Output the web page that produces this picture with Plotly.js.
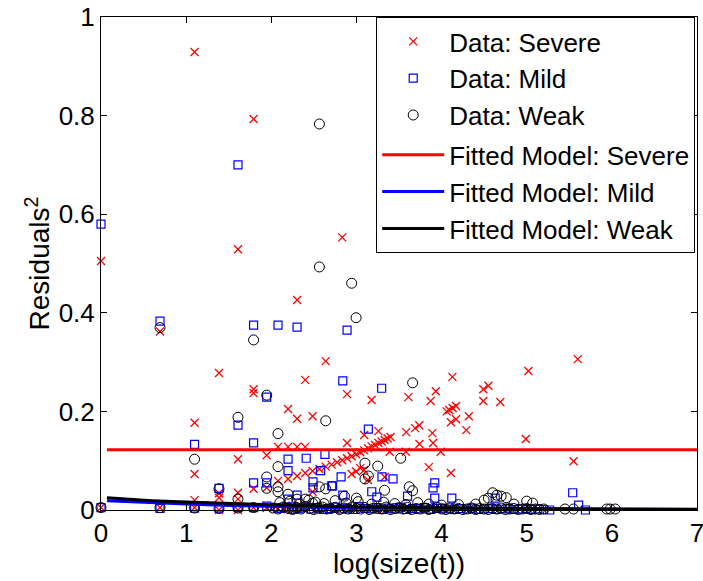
<!DOCTYPE html>
<html>
<head>
<meta charset="utf-8">
<script src="https://cdn.plot.ly/plotly-3.0.1.min.js"></script>
<style>html,body{margin:0;padding:0;background:#fff;}#chart{width:703px;height:581px;}</style>
</head>
<body>
<div id="chart"></div>
<script>
// ---- Data: Severe (red x) ----
const severeX = [0,0,0.693,0.693,1.099,1.099,1.099,1.099,1.099,1.386,1.386,1.386,1.386,1.609,1.609,1.609,1.609,1.609,1.792,1.792,1.792,1.792,1.792,1.946,1.946,1.946,2.079,2.079,2.079,2.197,2.197,2.197,2.197,2.303,2.303,2.303,2.303,2.398,2.398,2.398,2.485,2.485,2.485,2.565,2.639,2.639,2.708,2.773,2.833,2.833,2.890,2.890,2.890,2.944,2.944,2.996,2.996,3.045,3.045,3.091,3.091,3.091,3.135,3.135,3.178,3.178,3.219,3.258,3.258,3.296,3.332,3.332,3.367,3.401,3.39,3.58,3.584,3.611,3.689,3.738,3.74,3.850,3.871,3.892,3.90,3.932,3.99,4.06,4.09,4.11,4.127,4.13,4.17,4.11,4.17,4.29,4.32,4.49,4.55,4.49,4.69,4.99,5.02,5.55,5.60];
const severeY = [0.505,0.005,0.362,0.005,0.929,0.177,0.073,0.020,0.005,0.278,0.034,0.025,0.000,0.529,0.103,0.035,0.022,0.000,0.793,0.245,0.237,0.043,0.005,0.111,0.045,0.004,0.128,0.059,0.003,0.205,0.128,0.063,0.002,0.426,0.185,0.128,0.069,0.264,0.128,0.075,0.190,0.079,0.037,0.083,0.302,0.088,0.092,0.097,0.553,0.101,0.235,0.136,0.105,0.109,0.073,0.113,0.078,0.117,0.085,0.121,0.152,0.081,0.125,0.061,0.223,0.129,0.132,0.136,0.160,0.139,0.142,0.067,0.145,0.148,0.118,0.118,0.158,0.229,0.166,0.172,0.134,0.087,0.221,0.156,0.136,0.241,0.118,0.200,0.203,0.075,0.270,0.207,0.211,0.178,0.184,0.162,0.190,0.245,0.252,0.221,0.219,0.144,0.282,0.099,0.306];
const severeX0 = [2.05,2.15,2.25,2.35,2.45,2.55,2.65,2.75,2.85,2.95,3.05,3.20,3.35,3.50,3.65,3.80,3.95,4.10,4.30];
const severeY0 = [0.006,0.002,0.009,0.003,0.007,0.002,0.005,0.001,0.004,0.006,0.002,0.003,0.001,0.004,0.002,0.003,0.001,0.002,0.001];

// ---- Data: Mild (blue squares) ----
const mildX = [0,0,0.693,0.693,1.099,1.099,1.386,1.386,1.609,1.609,1.609,1.792,1.792,1.792,1.792,1.946,1.946,1.946,2.079,2.079,2.197,2.197,2.197,2.303,2.303,2.303,2.41,2.49,2.49,2.58,2.63,2.71,2.72,2.82,2.84,2.84,2.89,3.14,3.18,3.24,3.296,3.30,3.43,3.60,3.90,3.92,3.92,4.12,4.63,5.54,5.61,5.69];
const mildY = [0.580,0.005,0.383,0.003,0.133,0.004,0.044,0.004,0.700,0.172,0.005,0.375,0.136,0.055,0.005,0.229,0.055,0.008,0.375,0.004,0.103,0.080,0.022,0.371,0.030,0.004,0.105,0.057,0.045,0.080,0.113,0.049,0.049,0.067,0.262,0.030,0.365,0.164,0.037,0.026,0.247,0.067,0.063,0.028,0.045,0.055,0.024,0.024,0.024,0.035,0.010,0.000];
const mildX0 = [2.12,2.18,2.26,2.33,2.40,2.47,2.54,2.61,2.68,2.75,2.82,2.89,2.96,3.03,3.10,3.17,3.24,3.31,3.38,3.45,3.52,3.59,3.66,3.73,3.80,3.87,3.94,4.01,4.08,4.15,4.22,4.29,4.36,4.43,4.50,4.57,4.64,4.71,4.78,4.85,4.92,4.99,5.06,5.13,5.20,5.27];
const mildY0 = [0.003,0.006,0.001,0.004,0.008,0.002,0.005,0.001,0.003,0.006,0.002,0.004,0.001,0.007,0.003,0.002,0.005,0.001,0.004,0.002,0.006,0.001,0.003,0.002,0.005,0.001,0.003,0.004,0.002,0.001,0.003,0.002,0.004,0.001,0.002,0.003,0.001,0.002,0.004,0.001,0.002,0.003,0.001,0.002,0.001,0.000];

// ---- Data: Weak (black circles) ----
const weakX = [0,0.693,0.693,1.099,1.099,1.386,1.386,1.609,1.609,1.609,1.792,1.792,1.946,1.946,1.946,2.079,2.079,2.079,2.079,2.197,2.303,2.398,2.485,2.565,2.565,2.565,2.639,2.639,2.86,2.944,2.996,3.00,3.10,3.10,3.14,3.25,3.33,3.52,3.62,3.66,3.66,4.50,4.55,4.60,4.65,4.70,4.76,5.00,5.07,5.45,5.55,5.94,5.98,6.04];
const weakY = [0.005,0.370,0.005,0.103,0.004,0.043,0.003,0.188,0.022,0.004,0.345,0.005,0.233,0.067,0.044,0.155,0.088,0.047,0.037,0.032,0.022,0.022,0.014,0.783,0.493,0.047,0.181,0.043,0.028,0.460,0.390,0.024,0.095,0.063,0.069,0.089,0.040,0.105,0.047,0.258,0.039,0.020,0.024,0.035,0.030,0.028,0.025,0.018,0.014,0.002,0.002,0.002,0.002,0.002];
const weakX0 = [2.02,2.08,2.14,2.20,2.25,2.30,2.35,2.40,2.45,2.50,2.55,2.60,2.65,2.70,2.75,2.80,2.85,2.90,2.95,3.00,3.05,3.10,3.15,3.20,3.25,3.30,3.35,3.40,3.45,3.50,3.55,3.60,3.65,3.70,3.75,3.80,3.85,3.90,3.95,4.00,4.05,4.10,4.15,4.20,4.25,4.30,4.35,4.40,4.45,4.50,4.55,4.60,4.65,4.70,4.75,4.80,4.85,4.90,4.95,5.00,5.05,5.10,5.15,5.20];
const weakY0 = [0.004,0.002,0.006,0.003,0.001,0.005,0.002,0.007,0.003,0.001,0.004,0.006,0.002,0.003,0.005,0.001,0.004,0.002,0.006,0.003,0.002,0.005,0.001,0.004,0.003,0.002,0.006,0.001,0.003,0.004,0.002,0.005,0.001,0.003,0.002,0.004,0.001,0.003,0.005,0.002,0.001,0.004,0.002,0.003,0.001,0.002,0.004,0.001,0.003,0.002,0.001,0.003,0.002,0.004,0.001,0.002,0.003,0.001,0.002,0.003,0.001,0.002,0.001,0.002];
const weakX1 = [2.10,2.22,2.33,2.44,2.52,2.62,2.75,2.88,3.02,3.18,3.32,3.45,3.58,3.72,3.85,4.00,4.20,4.40,4.85];
const weakY1 = [0.015,0.018,0.012,0.020,0.016,0.013,0.019,0.014,0.017,0.012,0.016,0.013,0.011,0.015,0.012,0.010,0.011,0.012,0.012];

// ---- Fitted models ----
const fitX = [0.07,0.3,0.6,1.0,1.5,2.0,2.5,3.0,4.0,5.0,6.0,7.0];
const fitSevere = [0.122,0.122,0.122,0.122,0.122,0.122,0.122,0.122,0.122,0.122,0.122,0.122];
const fitMild = [0.019,0.017,0.015,0.012,0.009,0.007,0.005,0.004,0.003,0.002,0.0015,0.001];
const fitWeak = [0.025,0.022,0.019,0.016,0.013,0.010,0.008,0.006,0.004,0.003,0.002,0.0015];

const FONT = 'Liberation Sans, Arial, Helvetica, sans-serif';

const traces = [
  {x: severeX.concat(severeX0), y: severeY.concat(severeY0), type:'scatter', mode:'markers', name:'Data: Severe',
   cliponaxis:false, legendgroup:'data',
   marker:{symbol:'x-thin-open', size:8, color:'#ff0000', line:{color:'#ff0000', width:1.3}}},
  {x: mildX.concat(mildX0), y: mildY.concat(mildY0), type:'scatter', mode:'markers', name:'Data: Mild',
   cliponaxis:false, legendgroup:'data',
   marker:{symbol:'square-open', size:8, color:'#0000ff', line:{color:'#0000ff', width:1.2}}},
  {x: weakX.concat(weakX0, weakX1), y: weakY.concat(weakY0, weakY1), type:'scatter', mode:'markers', name:'Data: Weak',
   cliponaxis:false, legendgroup:'data',
   marker:{symbol:'circle-open', size:10, color:'#000000', line:{color:'#000000', width:1}}},
  {x: fitX, y: fitSevere, type:'scatter', mode:'lines', name:'Fitted Model: Severe', legendgroup:'fit',
   line:{color:'#ff0000', width:3}},
  {x: fitX, y: fitMild, type:'scatter', mode:'lines', name:'Fitted Model: Mild', legendgroup:'fit',
   line:{color:'#0000ff', width:3}},
  {x: fitX, y: fitWeak, type:'scatter', mode:'lines', name:'Fitted Model: Weak', legendgroup:'fit',
   line:{color:'#000000', width:3}}
];

const layout = {
  width:703, height:581,
  margin:{l:101, r:6, t:17, b:71},
  paper_bgcolor:'#fff', plot_bgcolor:'#fff',
  font:{family:FONT, color:'#000', size:26},
  showlegend:true,
  legend:{x:0.997, xanchor:'right', y:1, yanchor:'top', bgcolor:'#fff', bordercolor:'#000', borderwidth:1,
          font:{family:FONT, size:26, color:'#000'}, tracegroupgap:3, traceorder:'grouped', itemwidth:62},
  xaxis:{range:[0,7], dtick:1, tick0:0, ticks:'inside', ticklen:6, tickwidth:1, tickcolor:'#000',
         showline:true, linecolor:'#000', linewidth:1, mirror:'ticks', showgrid:false, zeroline:false,
         ticklabeloverflow:'allow',
         tickfont:{family:FONT, size:26}, title:{text:'log(size(t))', font:{family:FONT, size:28}, standoff:2}},
  yaxis:{range:[0,1], dtick:0.2, tick0:0, ticks:'inside', ticklen:6, tickwidth:1, tickcolor:'#000',
         showline:true, linecolor:'#000', linewidth:1, mirror:'ticks', showgrid:false, zeroline:false,
         ticklabeloverflow:'allow',
         tickfont:{family:FONT, size:26}, title:{text:'Residuals<sup>2</sup>', font:{family:FONT, size:28}, standoff:0}}
};

Plotly.newPlot('chart', traces, layout, {displayModeBar:false, staticPlot:true});
</script>
</body>
</html>
